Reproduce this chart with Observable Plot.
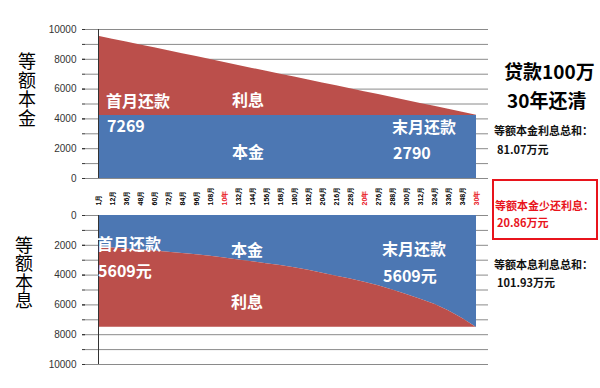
<!DOCTYPE html>
<html><head><meta charset="utf-8">
<script src="https://cdn.jsdelivr.net/npm/d3@7"></script>
<script src="https://cdn.jsdelivr.net/npm/@observablehq/plot@0.6"></script>
<style>
body{margin:0;background:#fff;}
#wrap{position:relative;width:600px;height:388px;overflow:hidden;background:#fff;font-family:"Noto Sans CJK SC","Noto Sans",sans-serif;}
#wrap svg{position:absolute;left:0;}
.abs{position:absolute;white-space:nowrap;line-height:1;}
.w{color:#fff;font-weight:bold;font-size:16px;}
.big{font-weight:bold;font-size:19px;color:#000;}
.sm{font-weight:bold;font-size:11px;color:#111;}
.red{color:#e8141c;}
.vt{font-size:18px;color:#000;writing-mode:vertical-rl;text-orientation:upright;line-height:22px;}
#box{position:absolute;left:492px;top:179px;width:106px;height:61px;border:2px solid #e8141c;box-sizing:border-box;}
</style></head><body><div id="wrap"></div><script>
const monthLabels = ["1月","12月","36月","48月","60月","72月","84月","96月","108月","10年","132月","144月","156月","168月","180月","192月","204月","216月","228月","20年","276月","288月","300月","312月","324月","336月","348月","30年"];
const redLabels = ["10年","20年","30年"];
// 等额本金 (top chart)
const topPrincipal = [4230,4230,4230,4230,4230,4230,4230,4230,4230,4230,4230,4230,4230,4230,4230,4230,4230,4230,4230,4230,4230,4230,4230,4230,4230,4230,4230,4230];
const topTotal = [9550,9350,9160,8960,8770,8570,8370,8180,7980,7790,7590,7390,7200,7000,6810,6610,6410,6220,6020,5830,5630,5430,5240,5040,4850,4650,4450,4250];
// 等额本息 (bottom chart)
const bottomPrincipal = [2110,2175,2240,2310,2385,2465,2545,2630,2740,2860,2980,3100,3230,3360,3500,3680,3870,4070,4270,4480,4720,5000,5300,5620,5960,6400,6920,7510];
const bottomTotal = [7500,7500,7500,7500,7500,7500,7500,7500,7500,7500,7500,7500,7500,7500,7500,7500,7500,7500,7500,7500,7500,7500,7500,7500,7500,7500,7500,7500];
const yTicks = [0,2000,4000,6000,8000,10000];
const yMinorTicks = [0,1000,2000,3000,4000,5000,6000,7000,8000,9000,10000];

const BLUE = "#4c77b3";
const RED = "#bb4f4b";

const topData = monthLabels.map((m,i)=>({m, p: topPrincipal[i], t: topTotal[i]}));
const botData = monthLabels.map((m,i)=>({m, p: bottomPrincipal[i], t: bottomTotal[i]}));

const baseStyle = {background:"transparent", overflow:"visible", fontFamily:"'Liberation Sans',Arial,sans-serif", fontSize:"10px", color:"#333"};
const fmt = d => String(d);

const topChart = Plot.plot({
  width:600, height:205, marginLeft:85, marginRight:112, marginTop:29, marginBottom:27,
  style: baseStyle,
  x:{type:"point", domain:monthLabels, padding:0, axis:null},
  y:{domain:[0,10000]},
  marks:[
    Plot.gridY(yMinorTicks,{stroke:"#8a8a8a", strokeOpacity:1, strokeWidth:1}),
    Plot.areaY(topData,{x:"m", y1:0, y2:"p", fill:BLUE}),
    Plot.areaY(topData,{x:"m", y1:"p", y2:"t", fill:RED}),
    Plot.axisY(yTicks,{tickSize:3, tickPadding:6, fontSize:10, label:null, fill:"#333", tickFormat:fmt}),
    Plot.axisY(yMinorTicks,{tickSize:3, tickFormat:()=>"", label:null}),
    Plot.ruleX([monthLabels[0]],{stroke:"#333", strokeWidth:1}),
    Plot.text(monthLabels,{filter:d=>!redLabels.includes(d), x:d=>d, text:d=>d, frameAnchor:"bottom", rotate:-90, textAnchor:"start", lineAnchor:"middle", dy:27, fontSize:7, fontWeight:"bold", fill:"#000"}),
    Plot.text(monthLabels,{filter:d=>redLabels.includes(d), x:d=>d, text:d=>d, frameAnchor:"bottom", rotate:-90, textAnchor:"start", lineAnchor:"middle", dy:27, fontSize:7, fontWeight:"bold", fill:"#e8141c"})
  ]
});
topChart.style.top = "0px";

const botChart = Plot.plot({
  width:600, height:183, marginLeft:85, marginRight:112, marginTop:10, marginBottom:24,
  style: baseStyle,
  x:{type:"point", domain:monthLabels, padding:0, axis:null},
  y:{domain:[0,10000], reverse:true},
  marks:[
    Plot.gridY(yMinorTicks,{stroke:"#8a8a8a", strokeOpacity:1, strokeWidth:1}),
    Plot.areaY(botData,{x:"m", y1:0, y2:"p", fill:BLUE}),
    Plot.areaY(botData,{x:"m", y1:"p", y2:"t", fill:RED}),
    Plot.axisY(yTicks,{tickSize:3, tickPadding:6, fontSize:10, label:null, fill:"#333", tickFormat:fmt}),
    Plot.axisY(yMinorTicks,{tickSize:3, tickFormat:()=>"", label:null}),
    Plot.ruleX([monthLabels[0]],{stroke:"#333", strokeWidth:1})
  ]
});
botChart.style.top = "205px";

const wrap = document.getElementById("wrap");
wrap.appendChild(topChart);
wrap.appendChild(botChart);

const notes = [
  ["w","首月还款",106,91.5],
  ["w","7269",107,117],
  ["w","利息",232,90.5],
  ["w","末月还款",392,117.5],
  ["w","本金",232,142.5],
  ["w","2790",393,143.5],
  ["w","首月还款",97,234.5],
  ["w","5609元",98,261.5],
  ["w","本金",231,240.5],
  ["w","末月还款",382,239.5],
  ["w","5609元",383,266.5],
  ["w","利息",231,292.5],
  ["big","贷款100万",504,61],
  ["big","30年还清",507,90],
  ["sm","等额本金利息总和：",494,124.5],
  ["sm","81.07万元",497,143.5],
  ["sm red","等额本金少还利息：",495,199.5],
  ["sm red","20.86万元",497,216.5],
  ["sm","等额本息利息总和：",494,258.5],
  ["sm","101.93万元",497,276.5],
  ["vt","等额本金",16,52,"letter-spacing:1px"],
  ["vt","等额本息",13,236,"letter-spacing:0.5px"]
];
const box = document.createElement("div"); box.id="box"; wrap.appendChild(box);
for (const [cls, txt, x, y, extra] of notes) {
  const d = document.createElement("div");
  d.className = "abs " + cls;
  d.textContent = txt;
  d.style.left = x + "px"; d.style.top = y + "px";
  if (extra) d.style.cssText += ";" + extra;
  wrap.appendChild(d);
}
</script></body></html>
